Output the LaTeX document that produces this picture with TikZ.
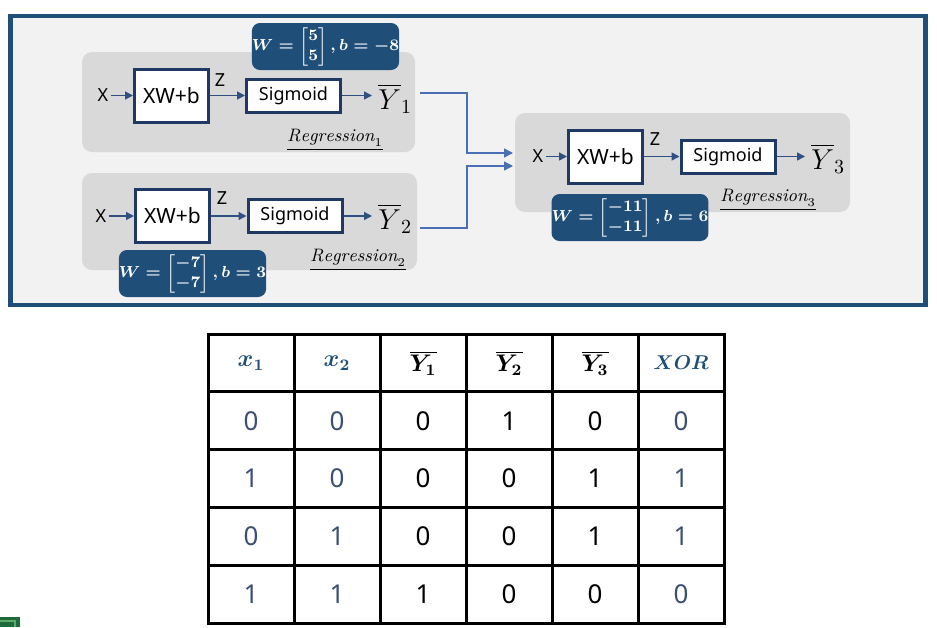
\documentclass[tikz,border=0pt]{standalone}
\usepackage{fontspec}
\usepackage{amsmath}
\usetikzlibrary{arrows.meta}

\newfontfamily\uifont{Noto Sans}

\definecolor{navy}{HTML}{1F4E79}
\definecolor{boxline}{HTML}{1F3864}
\definecolor{regfill}{HTML}{D9D9D9}
\definecolor{bgfill}{HTML}{F2F2F2}
\definecolor{flowcol}{HTML}{2F5080}
\definecolor{linkcol}{HTML}{4A6FB5}
\definecolor{numblue}{HTML}{3A4F73}
\definecolor{hdrblue}{HTML}{1F4E79}
\definecolor{xlgreen}{HTML}{1D6B3A}
\definecolor{xllight}{HTML}{5DAA68}

\tikzset{
  frame/.style={draw=navy, fill=bgfill, line width=2.4pt},
  regbox/.style={fill=regfill, rounded corners=5pt},
  opbox/.style={draw=boxline, fill=white, line width=1.5pt, inner sep=0pt,
    minimum width=37pt, minimum height=26.5pt, font=\uifont\fontsize{10.5}{12}\selectfont},
  sigbox/.style={draw=boxline, fill=white, line width=1.5pt, inner sep=0pt,
    minimum width=47pt, minimum height=16.5pt, font=\uifont\fontsize{9}{11}\selectfont},
  wbox/.style={fill=navy, rounded corners=4pt, text=white, inner sep=0pt,
    minimum width=73.5pt, minimum height=23.5pt, font=\fontsize{8.3}{10}\selectfont\boldmath},
  lbl/.style={inner sep=1pt, font=\uifont\fontsize{9}{11}\selectfont},
  ylbl/.style={anchor=west, inner xsep=3pt, inner ysep=0pt, font=\fontsize{14.5}{17}\selectfont},
  reglbl/.style={inner sep=0pt, font=\fontsize{9}{11}\selectfont},
  flow/.style={draw=flowcol, line width=0.7pt, -{Triangle[length=4pt,width=4pt]}},
  link/.style={draw=linkcol, line width=0.7pt, -{Triangle[length=4.5pt,width=4.5pt]}},
  grid/.style={draw=black, line width=1.5pt},
  hdr/.style={font=\fontsize{12}{14}\selectfont\boldmath},
  cell/.style={font=\uifont\fontsize{13}{15}\selectfont}
}

\begin{document}
\begin{tikzpicture}[x=0.5pt, y=-0.5pt]

% canvas
\useasboundingbox (0,0) rectangle (937,627);

% outer frame
\draw[frame] (10.5,16) rectangle (925.5,305);

% gray regression areas
\fill[regbox] (82,52) rectangle (415,152);
\fill[regbox] (82,173) rectangle (417,270);
\fill[regbox] (515,113) rectangle (850,212);

% Regression 1
\node[wbox] (w1) at (325.5,46.5) {$W = \begin{bmatrix}5\\5\end{bmatrix}, b = -8$};
\node[lbl] (x1) at (103,95.5) {X};
\node[opbox] (lin1) at (171.5,95.5) {XW+b};
\node[lbl] (z1) at (220,80) {Z};
\node[sigbox] (sig1) at (293.5,95.5) {Sigmoid};
\node[ylbl] (y1) at (372,99) {$\overline{Y}_1$};
\node[reglbl] (r1) at (335,140) {\underline{$\mathit{Regression}_1$}};
\draw[flow] (x1.east) -- (lin1.west);
\draw[flow] (lin1.east) -- (sig1.west);
\draw[flow] (sig1.east) -- (sig1.east -| y1.west);

% Regression 2
\node[lbl] (x2) at (101,216) {X};
\node[opbox] (lin2) at (172.5,216) {XW+b};
\node[lbl] (z2) at (222,198) {Z};
\node[sigbox] (sig2) at (295,216) {Sigmoid};
\node[ylbl] (y2) at (372,219) {$\overline{Y}_2$};
\node[reglbl] (r2) at (358,260) {\underline{$\mathit{Regression}_2$}};
\node[wbox] (w2) at (192.5,273.5) {$W = \begin{bmatrix}-7\\-7\end{bmatrix}, b = 3$};
\draw[flow] (x2.east) -- (lin2.west);
\draw[flow] (lin2.east) -- (sig2.west);
\draw[flow] (sig2.east) -- (sig2.east -| y2.west);

% Regression 3
\node[lbl] (x3) at (538,156.5) {X};
\node[opbox] (lin3) at (605.5,156.5) {XW+b};
\node[lbl] (z3) at (655,139) {Z};
\node[sigbox] (sig3) at (728,156.5) {Sigmoid};
\node[ylbl] (y3) at (805,159) {$\overline{Y}_3$};
\node[reglbl] (r3) at (768,200) {\underline{$\mathit{Regression}_3$}};
\node[wbox, minimum width=77pt] (w3) at (630,217.5) {$W = \begin{bmatrix}-11\\-11\end{bmatrix}, b = 6$};
\draw[flow] (x3.east) -- (lin3.west);
\draw[flow] (lin3.east) -- (sig3.west);
\draw[flow] (sig3.east) -- (sig3.east -| y3.west);

% links into Regression 3
\coordinate (o1) at (420,93);
\coordinate (o2) at (420,228);
\coordinate (i1) at (513,153);
\coordinate (i2) at (513,166);
\draw[link] (o1) -- ++(47,0) |- (i1);
\draw[link] (o2) -- ++(47,0) |- (i2);

% truth table grid
\draw[grid] (208,334) rectangle (724,623);
\foreach \x in {294,380,466,552,638}
  \draw[grid] (\x,334) -- (\x,623);
\foreach \j in {1,...,4}
  \draw[grid] (208,{334+57.8*\j}) -- (724,{334+57.8*\j});

% table header
\node[hdr, text=hdrblue] (h1) at (251,363) {$x_1$};
\node[hdr, text=hdrblue] (h2) at (337,363) {$x_2$};
\node[hdr] (h3) at (423,363) {$\overline{Y_1}$};
\node[hdr] (h4) at (509,363) {$\overline{Y_2}$};
\node[hdr] (h5) at (595,363) {$\overline{Y_3}$};
\node[hdr, text=hdrblue, font=\fontsize{10}{12}\selectfont\boldmath] (h6) at (681,363) {$XOR$};

% table rows
\foreach \ca/\cb/\cc/\cd/\ce/\cf [count=\r] in {0/0/0/1/0/0, 1/0/0/0/1/1, 0/1/0/0/1/1, 1/1/1/0/0/0}{
  \node[cell, text=numblue] (a\r) at (251,{363+57.8*\r}) {\ca};
  \node[cell, text=numblue] (b\r) at (337,{363+57.8*\r}) {\cb};
  \node[cell] (c\r) at (423,{363+57.8*\r}) {\cc};
  \node[cell] (d\r) at (509,{363+57.8*\r}) {\cd};
  \node[cell] (e\r) at (595,{363+57.8*\r}) {\ce};
  \node[cell, text=numblue] (f\r) at (681,{363+57.8*\r}) {\cf};
}

% corner icon scrap
\fill[xlgreen] (0,617) rectangle (20,627);
\draw[xllight, line width=0.6pt] (0,621) -- (15,621) -- (15,627);

\end{tikzpicture}
\end{document}
